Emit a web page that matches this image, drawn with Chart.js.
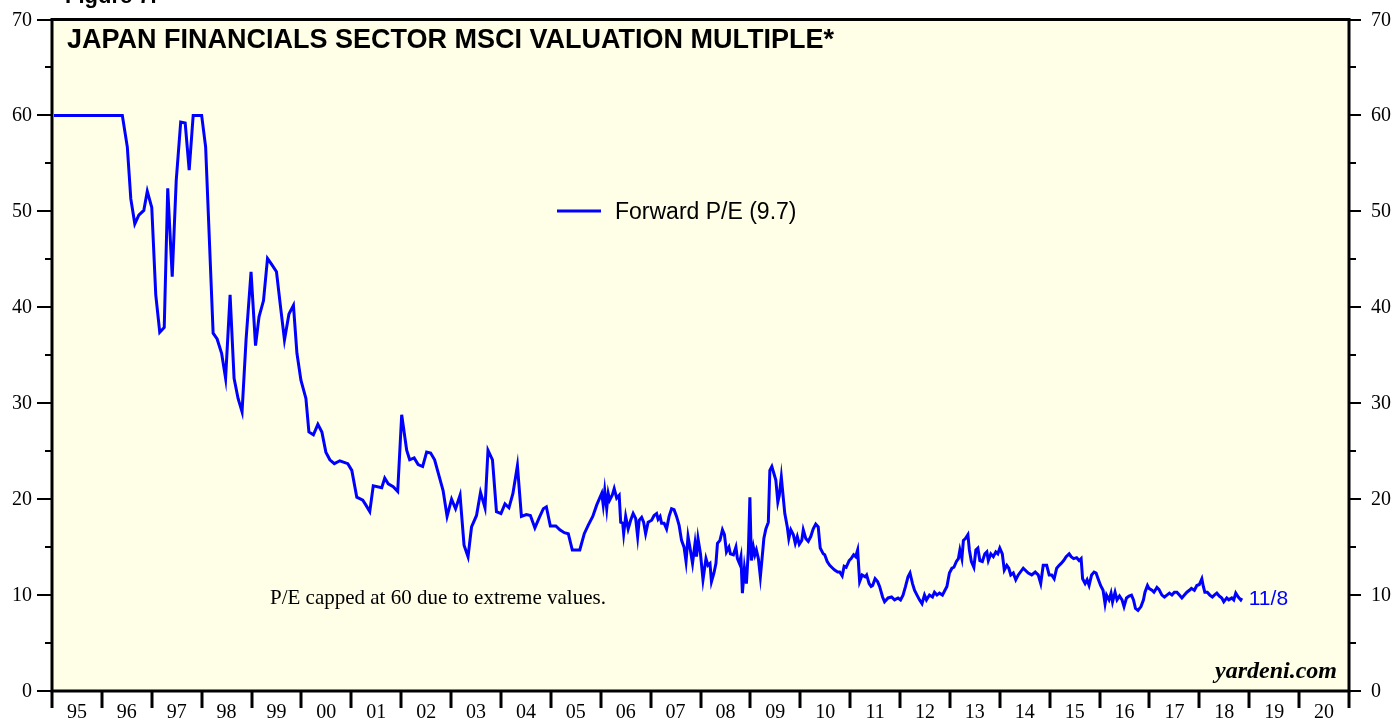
<!DOCTYPE html>
<html>
<head>
<meta charset="utf-8">
<script src="https://cdn.jsdelivr.net/npm/chart.js@4.4.0/dist/chart.umd.min.js"></script>
<style>
  html, body { margin: 0; padding: 0; background: #fff; }
  #wrap { position: relative; width: 1396px; height: 721px; overflow: hidden; }
</style>
</head>
<body>
<div id="wrap"><canvas id="myChart" width="1396" height="721"></canvas></div>
<script>
// Japan financials forward P/E (capped at 60)
const dates = [
  1995.04, 1995.12, 1995.21, 1995.29, 1995.37, 1995.46, 1995.54, 1995.62, 1995.71, 1995.79, 1995.87, 1995.96,
  1996.04, 1996.12, 1996.21, 1996.29, 1996.41, 1996.51, 1996.58, 1996.66, 1996.74, 1996.84, 1996.91,
  1997.00, 1997.08, 1997.16, 1997.25, 1997.32, 1997.41, 1997.49, 1997.58, 1997.67, 1997.75, 1997.83, 1997.92,
  1998.00, 1998.08, 1998.23, 1998.31, 1998.40, 1998.48, 1998.57, 1998.65, 1998.73, 1998.81, 1998.89, 1998.99,
  1999.08, 1999.15, 1999.24, 1999.32, 1999.40, 1999.50, 1999.58, 1999.66, 1999.75, 1999.84, 1999.91, 1999.99,
  2000.09, 2000.15, 2000.24, 2000.33, 2000.41, 2000.49, 2000.57, 2000.66, 2000.77, 2000.93,
  2001.01, 2001.11, 2001.23, 2001.29, 2001.37, 2001.44, 2001.61, 2001.67, 2001.74, 2001.84, 2001.93,
  2002.01, 2002.11, 2002.17, 2002.26, 2002.34, 2002.43, 2002.51, 2002.59, 2002.67, 2002.76, 2002.84, 2002.92,
  2003.01, 2003.09, 2003.18, 2003.26, 2003.34, 2003.41, 2003.51, 2003.59, 2003.68, 2003.74, 2003.83, 2003.91,
  2004.00, 2004.08, 2004.16, 2004.24, 2004.33, 2004.41, 2004.51, 2004.59, 2004.68, 2004.77, 2004.85, 2004.91, 2004.99,
  2005.10, 2005.18, 2005.27, 2005.35, 2005.43, 2005.58, 2005.67, 2005.75, 2005.84, 2005.92,
  2006.02, 2006.05, 2006.08, 2006.12, 2006.15, 2006.18, 2006.23, 2006.27, 2006.32, 2006.37, 2006.40, 2006.44,
  2006.46, 2006.50, 2006.55, 2006.60, 2006.65, 2006.70, 2006.74, 2006.77, 2006.82, 2006.86, 2006.90, 2006.95,
  2007.02, 2007.07, 2007.12, 2007.15, 2007.19, 2007.22, 2007.27, 2007.32, 2007.37, 2007.42, 2007.47, 2007.52,
  2007.57, 2007.62, 2007.67, 2007.71, 2007.75, 2007.79, 2007.84, 2007.89, 2007.92, 2007.95,
  2008.00, 2008.05, 2008.11, 2008.15, 2008.19, 2008.22, 2008.27, 2008.31, 2008.34, 2008.39, 2008.44, 2008.48,
  2008.52, 2008.57, 2008.60, 2008.66, 2008.71, 2008.74, 2008.78, 2008.81, 2008.84, 2008.88, 2008.92, 2008.96, 2008.99,
  2009.02, 2009.06, 2009.09, 2009.12, 2009.16, 2009.20, 2009.25, 2009.27, 2009.31, 2009.36, 2009.39, 2009.43,
  2009.47, 2009.51, 2009.55, 2009.58, 2009.62, 2009.66, 2009.69, 2009.74, 2009.77, 2009.81, 2009.86, 2009.90, 2009.94, 2009.98,
  2010.03, 2010.06, 2010.11, 2010.16, 2010.21, 2010.26, 2010.31, 2010.36, 2010.40, 2010.46, 2010.49, 2010.54,
  2010.59, 2010.65, 2010.69, 2010.75, 2010.79, 2010.84, 2010.88, 2010.92, 2010.98,
  2011.02, 2011.07, 2011.11, 2011.15, 2011.19, 2011.24, 2011.30, 2011.33, 2011.38, 2011.42, 2011.45, 2011.50,
  2011.55, 2011.59, 2011.65, 2011.69, 2011.76, 2011.83, 2011.89, 2011.96,
  2012.01, 2012.06, 2012.11, 2012.16, 2012.20, 2012.25, 2012.29, 2012.34, 2012.39, 2012.44, 2012.49, 2012.53,
  2012.59, 2012.65, 2012.69, 2012.74, 2012.79, 2012.85, 2012.90, 2012.94, 2012.99,
  2013.04, 2013.08, 2013.13, 2013.17, 2013.20, 2013.24, 2013.27, 2013.31, 2013.36, 2013.39, 2013.43, 2013.48,
  2013.52, 2013.56, 2013.60, 2013.65, 2013.70, 2013.74, 2013.77, 2013.82, 2013.87, 2013.92, 2013.96,
  2014.00, 2014.05, 2014.09, 2014.14, 2014.18, 2014.22, 2014.27, 2014.32, 2014.37, 2014.47, 2014.57, 2014.64,
  2014.71, 2014.77, 2014.82, 2014.87, 2014.94, 2014.99,
  2015.04, 2015.09, 2015.14, 2015.19, 2015.23, 2015.28, 2015.33, 2015.39, 2015.43, 2015.48, 2015.54, 2015.59,
  2015.63, 2015.66, 2015.71, 2015.75, 2015.79, 2015.84, 2015.89, 2015.93, 2015.97,
  2016.02, 2016.07, 2016.11, 2016.14, 2016.19, 2016.23, 2016.26, 2016.31, 2016.35, 2016.40, 2016.45, 2016.49,
  2016.54, 2016.59, 2016.64, 2016.68, 2016.72, 2016.77, 2016.83, 2016.88, 2016.91, 2016.96, 2016.99,
  2017.05, 2017.09, 2017.15, 2017.19, 2017.25, 2017.30, 2017.35, 2017.40, 2017.45, 2017.50, 2017.55, 2017.60,
  2017.65, 2017.70, 2017.75, 2017.80, 2017.84, 2017.90, 2017.95,
  2018.00, 2018.05, 2018.08, 2018.11, 2018.16, 2018.21, 2018.26, 2018.30, 2018.35, 2018.40, 2018.45, 2018.49,
  2018.55, 2018.59, 2018.65, 2018.69, 2018.73, 2018.78, 2018.83, 2018.85
];
const forwardPE = [
  60, 60, 60, 60, 60, 60, 60, 60, 60, 60, 60, 60,
  60, 60, 60, 60, 60, 56.7, 51.3, 48.7, 49.6, 50.1, 52.1,
  50.4, 41.3, 37.4, 37.9, 52.4, 43.2, 53.2, 59.3, 59.2, 54.3, 60, 60,
  60, 56.7, 37.3, 36.7, 35.2, 32.6, 41.3, 32.6, 30.5, 29.1, 36.6, 43.7,
  36.0, 39.0, 40.7, 45.1, 44.5, 43.7, 40.1, 36.6, 39.3, 40.2, 35.2, 32.4,
  30.5, 27.0, 26.7, 27.8, 27.0, 24.9, 24.1, 23.7, 24.0, 23.7,
  23.0, 20.2, 19.9, 19.4, 18.7, 21.4, 21.2, 22.2, 21.6, 21.3, 20.8,
  28.8, 25.1, 24.1, 24.3, 23.6, 23.4, 24.9, 24.8, 24.1, 22.4, 20.9, 18.2,
  20.0, 19.0, 20.4, 15.2, 14.0, 17.1, 18.3, 20.7, 19.1, 25.1, 24.1, 18.7,
  18.5, 19.5, 19.1, 20.6, 23.5, 18.2, 18.4, 18.3, 17.0, 18.1, 19.0, 19.2, 17.2,
  17.2, 16.8, 16.5, 16.4, 14.7, 14.7, 16.4, 17.3, 18.2, 19.4,
  20.6, 19.4, 20.9, 19.0, 20.6, 19.9, 20.4, 21.1, 20.1, 20.4, 17.6, 17.5,
  16.4, 18.2, 16.9, 17.8, 18.5, 18.0, 16.1, 17.8, 18.1, 17.6, 16.4, 17.6,
  17.8, 18.3, 18.5, 17.9, 18.2, 17.5, 17.5, 16.9, 18.2, 19.0, 18.9, 18.2,
  17.3, 15.7, 15.0, 13.5, 16.1, 14.9, 13.3, 15.4, 14.0, 15.9,
  14.3, 11.6, 13.8, 13.1, 13.3, 11.4, 12.3, 13.3, 15.4, 15.7, 16.8, 16.3,
  14.5, 15.0, 14.3, 14.2, 15.0, 13.8, 13.3, 14.0, 10.2, 12.8, 11.2, 14.7, 20.2,
  13.6, 15.0, 14.2, 14.7, 13.8, 11.9, 14.7, 15.9, 16.9, 17.6, 23.0, 23.4,
  22.7, 22.0, 19.7, 20.4, 22.3, 20.1, 18.5, 17.1, 15.9, 16.8, 16.3, 15.4, 16.1, 15.3,
  15.7, 16.8, 15.9, 15.6, 16.1, 16.9, 17.4, 17.1, 14.9, 14.3, 14.2, 13.5,
  13.1, 12.8, 12.6, 12.4, 12.4, 12.0, 13.0, 12.9, 13.6,
  13.8, 14.2, 14.0, 14.7, 11.4, 12.1, 11.9, 12.1, 11.2, 10.9, 11.0, 11.7,
  11.4, 10.9, 9.8, 9.3, 9.7, 9.8, 9.5, 9.7,
  9.5, 10.0, 10.9, 11.9, 12.3, 11.2, 10.5, 10.0, 9.5, 9.1, 10.0, 9.5,
  10.0, 9.8, 10.3, 10.0, 10.2, 10.0, 10.5, 10.9, 12.3,
  12.8, 12.9, 13.5, 13.8, 14.7, 13.8, 15.7, 15.9, 16.3, 14.7, 13.5, 12.9,
  14.7, 14.9, 13.6, 13.5, 14.3, 14.5, 13.6, 14.3, 14.0, 14.5, 14.3,
  14.9, 14.3, 12.6, 13.1, 12.8, 12.1, 12.3, 11.6, 12.1, 12.8, 12.3, 12.1,
  12.4, 12.1, 11.2, 13.1, 13.1, 12.1,
  12.1, 11.7, 12.8, 13.1, 13.3, 13.6, 14.0, 14.3, 14.0, 13.8, 13.9, 13.6,
  13.8, 11.7, 11.2, 11.6, 11.0, 12.1, 12.4, 12.3, 11.7,
  11.0, 10.5, 9.1, 10.0, 9.5, 10.2, 9.3, 10.3, 9.5, 9.9, 9.5, 8.8,
  9.7, 9.9, 10.0, 9.5, 8.6, 8.4, 8.8, 9.5, 10.3, 11.0, 10.7,
  10.5, 10.3, 10.8, 10.6, 10.0, 9.8, 10.0, 10.2, 10.0, 10.3, 10.3, 10.0,
  9.7, 10.0, 10.3, 10.5, 10.7, 10.5, 11.0,
  11.1, 11.7, 10.9, 10.3, 10.3, 10.0, 9.8, 10.0, 10.2, 9.9, 9.7, 9.3,
  9.7, 9.5, 9.7, 9.5, 10.2, 9.8, 9.5, 9.7
];
const yearLabels = ['95', '96', '97', '98', '99', '00', '01', '02', '03', '04', '05', '06', '07',
  '08', '09', '10', '11', '12', '13', '14', '15', '16', '17', '18', '19', '20'];
const firstYear = 1995;
const yTicks = [0, 10, 20, 30, 40, 50, 60, 70];
const yMinorTicks = [5, 15, 25, 35, 45, 55, 65];

const serif = "'Liberation Serif', 'Times New Roman', serif";
const sans = "'Liberation Sans', Arial, sans-serif";
const lineBlue = '#0000ff';

const points = dates.map((d, i) => ({ x: d, y: forwardPE[i] }));

// paints the yellow panel, the frame, the ticks and all the text
const yardeniPlugin = {
  id: 'yardeni',
  beforeDatasetsDraw(chart) {
    const { ctx, chartArea: a } = chart;
    ctx.save();
    ctx.fillStyle = '#fffee6';
    ctx.fillRect(a.left, a.top, a.right - a.left, a.bottom - a.top);
    ctx.restore();
  },
  afterDatasetsDraw(chart) {
    const { ctx, chartArea: a, scales } = chart;
    const xs = scales.x, ys = scales.y;
    ctx.save();
    ctx.strokeStyle = '#000';
    ctx.fillStyle = '#000';

    // frame
    ctx.lineWidth = 3;
    ctx.strokeRect(a.left, a.top, a.right - a.left, a.bottom - a.top);

    // y ticks both sides
    ctx.lineWidth = 2;
    ctx.font = '20px ' + serif;
    ctx.textBaseline = 'middle';
    yTicks.forEach(v => {
      const py = Math.round(ys.getPixelForValue(v));
      ctx.beginPath();
      ctx.moveTo(a.left - 15, py); ctx.lineTo(a.left, py);
      ctx.moveTo(a.right, py); ctx.lineTo(a.right + 12, py);
      ctx.stroke();
      ctx.textAlign = 'right';
      ctx.fillText(String(v), a.left - 20, py + 1);
      ctx.textAlign = 'left';
      ctx.fillText(String(v), a.right + 22, py + 1);
    });
    yMinorTicks.forEach(v => {
      const py = Math.round(ys.getPixelForValue(v));
      ctx.beginPath();
      ctx.moveTo(a.left - 7, py); ctx.lineTo(a.left, py);
      ctx.moveTo(a.right, py); ctx.lineTo(a.right + 7, py);
      ctx.stroke();
    });

    // x ticks at year boundaries, labels in between
    ctx.lineWidth = 3;
    for (let i = 0; i <= yearLabels.length; i++) {
      const px = Math.round(xs.getPixelForValue(firstYear + i));
      ctx.beginPath();
      ctx.moveTo(px, a.bottom); ctx.lineTo(px, a.bottom + 17);
      ctx.stroke();
    }
    ctx.textAlign = 'center';
    ctx.textBaseline = 'alphabetic';
    yearLabels.forEach((lab, i) => {
      ctx.fillText(lab, xs.getPixelForValue(firstYear + i + 0.5), a.bottom + 27);
    });

    // top caption, cut off by the page edge
    ctx.textAlign = 'left';
    ctx.font = 'bold 22px ' + sans;
    ctx.fillText('Figure 7.', 65, 3);

    // title
    ctx.font = 'bold 27px ' + sans;
    ctx.fillText('JAPAN FINANCIALS SECTOR MSCI VALUATION MULTIPLE*', 67, 48);

    // legend
    ctx.strokeStyle = lineBlue;
    ctx.lineWidth = 3;
    ctx.beginPath();
    ctx.moveTo(557, 211); ctx.lineTo(601, 211);
    ctx.stroke();
    ctx.font = '23px ' + sans;
    ctx.fillText('Forward P/E (9.7)', 615, 219);

    // note
    ctx.font = '21px ' + serif;
    ctx.fillText('P/E capped at 60 due to extreme values.', 270, 604);

    // last date label
    const last = dates.length - 1;
    ctx.fillStyle = lineBlue;
    ctx.font = '21px ' + sans;
    ctx.fillText('11/8', xs.getPixelForValue(dates[last]) + 7, 605);

    // source
    ctx.fillStyle = '#000';
    ctx.textAlign = 'right';
    ctx.font = 'italic bold 24px ' + serif;
    ctx.fillText('yardeni.com', 1337, 678);
    ctx.restore();
  }
};

const hiddenAxis = {
  grid: { display: false },
  border: { display: false },
  ticks: { display: false }
};

const peChart = new Chart(document.getElementById('myChart').getContext('2d'), {
  type: 'line',
  data: {
    datasets: [{
      label: 'Forward P/E',
      data: points,
      borderColor: lineBlue,
      borderWidth: 3,
      pointRadius: 0,
      tension: 0,
      fill: false
    }]
  },
  options: {
    responsive: false,
    animation: false,
    layout: { padding: { top: 19.5, left: 0, right: 0, bottom: 0 } },
    plugins: {
      legend: { display: false },
      tooltip: { enabled: false }
    },
    scales: {
      x: Object.assign({ type: 'linear', min: 1995, max: 2021, afterFit(s) { s.height = 30; } }, hiddenAxis),
      y: Object.assign({ position: 'left', min: 0, max: 70, afterFit(s) { s.width = 52; } }, hiddenAxis),
      y2: Object.assign({ position: 'right', min: 0, max: 70, afterFit(s) { s.width = 47; } }, hiddenAxis)
    }
  },
  plugins: [yardeniPlugin]
});
</script>
</body>
</html>
